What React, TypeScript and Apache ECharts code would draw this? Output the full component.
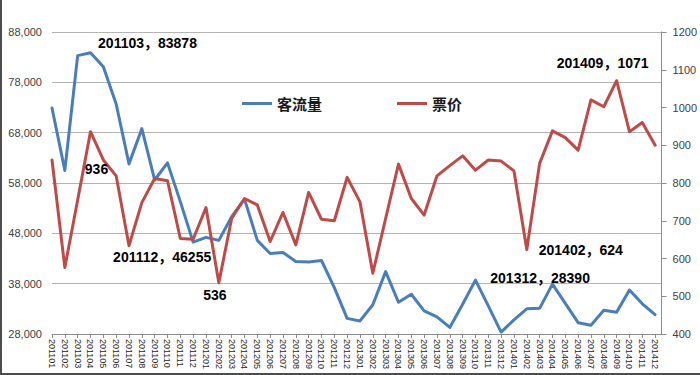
import React, { useEffect, useRef } from 'react';
import * as echarts from 'echarts';

const categories = [
  '201101', '201102', '201103', '201104', '201105', '201106', '201107', '201108', '201109', '201110', '201111', '201112',
  '201201', '201202', '201203', '201204', '201205', '201206', '201207', '201208', '201209', '201210', '201211', '201212',
  '201301', '201302', '201303', '201304', '201305', '201306', '201307', '201308', '201309', '201310', '201311', '201312',
  '201401', '201402', '201403', '201404', '201405', '201406', '201407', '201408', '201409', '201410', '201411', '201412',
];

const passengerFlow = [
  72900, 60500, 83300, 83878, 81100, 73700, 61800, 68800, 58600, 62000, 54300, 46255,
  47200, 46600, 51300, 54800, 46600, 44000, 44200, 42400, 42300, 42600, 37200, 31100,
  30600, 33800, 40400, 34300, 35900, 32600, 31400, 29300, 33900, 38700, 33600, 28390,
  30800, 33000, 33100, 37900, 34100, 30250, 29750, 32700, 32300, 36750, 34000, 31850,
];

const ticketPrice = [
  861, 576, 755, 936, 861, 819, 634, 748, 812, 806, 653, 651,
  735, 536, 706, 759, 742, 645, 722, 636, 775, 704, 700, 815,
  750, 561, 706, 850, 759, 715, 819, 846, 872, 834, 861, 858,
  832, 624, 852, 938, 920, 887, 1020, 1002, 1071, 936, 960, 900,
];

const seriesNames = ['客流量', '票价'];

const flowNotes = [
  { index: 3, text: '201103，83878' },
  { index: 11, text: '201112，46255' },
  { index: 35, text: '201312，28390' },
];

const priceNotes = [
  { index: 3, text: '936' },
  { index: 13, text: '536' },
  { index: 37, text: '201402，624' },
  { index: 44, text: '201409，1071' },
];

const flowNoteOffsets = [[57, -10], [-31, 15], [39, -54]];
const priceNoteOffsets = [[6, 37], [-4, 12], [54, 1], [-14, -18]];

export default function App() {
  const ref = useRef<HTMLDivElement>(null);

  useEffect(() => {
    if (!ref.current) return;
    const chart = echarts.init(ref.current, null, { renderer: 'svg' });
    const font = "'Liberation Sans', Arial, 'Noto Sans CJK SC', sans-serif";
    const cjkFont = "'Noto Sans CJK SC', sans-serif";
    const idx = categories.map((_, i) => i);

    const notes = (list: { index: number; text: string }[], values: number[], offsets: number[][]) =>
      list.map((n, k) => ({
        coord: [n.index, values[n.index]],
        label: { formatter: n.text, offset: offsets[k] },
      }));

    const markPointBase = {
      symbol: 'circle',
      symbolSize: 1,
      silent: true,
      itemStyle: { color: 'rgba(0,0,0,0)' },
      label: {
        show: true,
        position: 'inside',
        color: '#000000',
        fontSize: 14,
        fontWeight: 'bold',
        fontFamily: font,
      },
    };

    chart.setOption({
      animation: false,
      backgroundColor: '#ffffff',
      grid: { left: 52, right: 38, top: 32, bottom: 41 },
      legend: {
        left: 237,
        top: 91,
        icon: 'rect',
        itemWidth: 30,
        itemHeight: 3,
        itemGap: 75,
        data: seriesNames,
        textStyle: { fontSize: 15, fontWeight: 'bold', color: '#1a1a1a', fontFamily: cjkFont },
      },
      graphic: [
        { type: 'line', shape: { x1: 1, y1: 0, x2: 1, y2: 375 }, style: { stroke: '#4d4d4d', lineWidth: 2 } },
        { type: 'line', shape: { x1: 0, y1: 374, x2: 700, y2: 374 }, style: { stroke: '#4d4d4d', lineWidth: 2 } },
      ],
      xAxis: {
        type: 'value',
        min: 0,
        max: 47.5,
        interval: 1,
        splitLine: { show: false },
        axisLine: { show: true, lineStyle: { color: '#8c8c8c', width: 1 } },
        axisTick: { show: true, length: 4, lineStyle: { color: '#8c8c8c' }, customValues: idx },
        axisLabel: {
          customValues: idx,
          formatter: (v: number) => categories[Math.round(v)] ?? '',
          rotate: -90,
          margin: 5,
          fontSize: 9,
          color: '#262626',
          fontFamily: font,
        },
      },
      yAxis: [
        {
          type: 'value',
          min: 28000,
          max: 88000,
          interval: 10000,
          axisLine: { show: false },
          axisTick: { show: false },
          splitLine: { show: true, lineStyle: { color: '#b4b4b4', width: 1 } },
          axisLabel: {
            formatter: (v: number) => v.toLocaleString('en-US'),
            fontSize: 11,
            color: '#404040',
            margin: 10,
            fontFamily: font,
          },
        },
        {
          type: 'value',
          position: 'right',
          min: 400,
          max: 1200,
          interval: 100,
          splitLine: { show: false },
          axisLine: { show: true, lineStyle: { color: '#8c8c8c', width: 1 } },
          axisTick: { show: true, length: 5, lineStyle: { color: '#8c8c8c' } },
          axisLabel: {
            formatter: (v: number) => String(v),
            fontSize: 11,
            color: '#404040',
            margin: 11,
            fontFamily: font,
          },
        },
      ],
      series: [
        {
          name: seriesNames[0],
          type: 'line',
          yAxisIndex: 0,
          symbol: 'none',
          color: '#4a7ebb',
          lineStyle: { width: 3, color: '#4a7ebb', join: 'round', cap: 'round' },
          data: passengerFlow.map((v, i) => [i, v]),
          markPoint: { ...markPointBase, data: notes(flowNotes, passengerFlow, flowNoteOffsets) },
        },
        {
          name: seriesNames[1],
          type: 'line',
          yAxisIndex: 1,
          symbol: 'none',
          color: '#be4b48',
          lineStyle: { width: 3, color: '#be4b48', join: 'round', cap: 'round' },
          data: ticketPrice.map((v, i) => [i, v]),
          markPoint: { ...markPointBase, data: notes(priceNotes, ticketPrice, priceNoteOffsets) },
        },
      ],
    });

    return () => chart.dispose();
  }, []);

  return <div ref={ref} style={{ position: 'fixed', left: 0, top: 0, width: 700, height: 375 }} />;
}
